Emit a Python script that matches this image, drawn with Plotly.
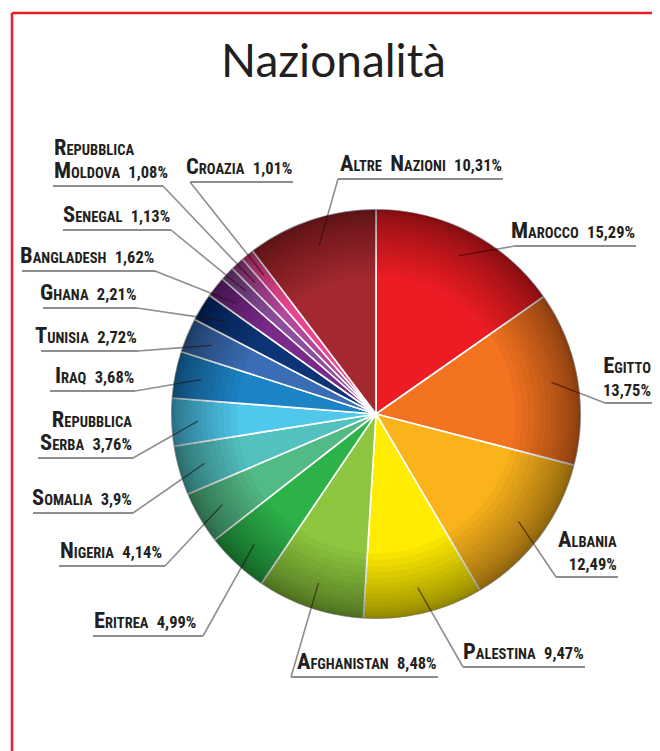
import math
import plotly.graph_objects as go

# ---------------- data ----------------
countries = ["Marocco", "Egitto", "Albania", "Palestina", "Afghanistan", "Eritrea",
             "Nigeria", "Somalia", "Repubblica Serba", "Iraq", "Tunisia", "Ghana",
             "Bangladesh", "Senegal", "Repubblica Moldova", "Croazia", "Altre Nazioni"]
percentages = [15.29, 13.75, 12.49, 9.47, 8.48, 4.99,
               4.14, 3.9, 3.76, 3.68, 2.72, 2.21,
               1.62, 1.13, 1.08, 1.01, 10.31]
slice_colors = ["#ED1C24", "#F37321", "#FAB31B", "#FFEC00", "#8DC63F", "#2DB24A",
                "#52BA84", "#52C1C0", "#4FC8EC", "#1C83C5", "#3A6DB5", "#0E3478",
                "#7A2A8B", "#8C4E9E", "#B2479B", "#E94690", "#A4282F"]

# ---------------- layout / style ----------------
OFF = 8                              # page body margin of the browser
W, H = 652, 743
CX, CY, R = 376, 414, 205            # pie centre / radius (page pixels)
INNER_FRAC = 0.87                    # where leader lines start inside slices

# label placement: (underline y, underline x0, underline x1, elbow side, text anchor, line break)
label_layout = [
    (246, 515, 636, "L", "right", None),
    (403, 605, 652, "L", "right", "pct"),
    (577, 556, 618, "L", "right", "pct"),
    (667, 463, 585, "L", "right", None),
    (677, 291, 438, "L", "right", None),
    (636, 93, 203, "R", "left", None),
    (566, 59, 165, "R", "left", None),
    (513, 33, 133, "R", "right", None),
    (458, 38, 133, "R", "right", "word"),
    (391, 50, 135, "R", "right", None),
    (351, 41, 138, "R", "right", None),
    (308, 43, 137, "R", "right", None),
    (271, 22, 155, "R", "right", None),
    (230, 63, 171, "R", "right", None),
    (186, 53, 163, "R", "left", "word"),
    (182, 190, 293, "L", "right", None),
    (179, 338, 503, "L", "right", None),
]

LABEL_FONT = "Roboto Condensed, Roboto, sans-serif"
TEXT_COLOR = "#231F20"
BIG, SMALL, NUM = 22.5, 14.5, 16.5


def px(x):
    return (x - OFF) / W


def py(y):
    return 1 - (y - OFF) / H


def smallcaps(word):
    return (f"<span style='font-size:{BIG}px'>{word[0].upper()}</span>"
            f"<span style='font-size:{SMALL}px'>{word[1:].upper()}</span>")


def fmt_pct(v):
    return f"{v:g}".replace(".", ",") + "%"


def build_label(name, value, brk):
    words = name.split(" ")
    num = f"<span style='font-size:{NUM}px'>{fmt_pct(value)}</span>"
    if brk == "word":
        return smallcaps(words[0]) + "<br>" + " ".join(smallcaps(w) for w in words[1:]) + " &nbsp;" + num
    name_txt = " &nbsp;".join(smallcaps(w) for w in words)
    if brk == "pct":
        return name_txt + "<br>" + num
    return name_txt + " &nbsp;" + num


pie_domain = dict(x=[px(CX - R), px(CX + R)], y=[py(CY + R), py(CY - R)])

fig = go.Figure()

# main pie
fig.add_trace(go.Pie(
    labels=countries, values=percentages, sort=False, direction="clockwise", rotation=0,
    marker=dict(colors=slice_colors, line=dict(color="white", width=1.6)),
    textinfo="none", hoverinfo="label+percent", showlegend=False,
    domain=pie_domain,
))

# rim shading (stacked translucent rings)
n_rings = 16
for k in range(n_rings):
    hole = 0.68 + (0.992 - 0.68) * (1 - (1 - k / (n_rings - 1)) ** 1.6)
    fig.add_trace(go.Pie(
        values=[1], hole=hole, sort=False, textinfo="none", hoverinfo="skip",
        marker=dict(colors=["rgba(0,0,0,0.036)"], line=dict(width=0)), showlegend=False,
        domain=pie_domain,
    ))

shapes = []
annotations = []
total = sum(percentages)
cum = 0.0
for name, val, lay in zip(countries, percentages, label_layout):
    mid = (cum + val / 2) / total * 2 * math.pi
    cum += val
    uy, x0, x1, side, anchor, brk = lay
    ix = CX + INNER_FRAC * R * math.sin(mid)
    iy = CY - INNER_FRAC * R * math.cos(mid)
    ex = x0 if side == "L" else x1
    ey = uy
    # intersection with rim
    dx, dy = ex - ix, ey - iy
    fx, fy = ix - CX, iy - CY
    a = dx * dx + dy * dy
    b = 2 * (fx * dx + fy * dy)
    c = fx * fx + fy * fy - R * R
    t = (-b + math.sqrt(b * b - 4 * a * c)) / (2 * a)
    rx, ry = ix + t * dx, iy + t * dy
    shapes.append(dict(type="line", xref="paper", yref="paper",
                       x0=px(rx), y0=py(ry), x1=px(ex), y1=py(ey),
                       line=dict(color="#8E8E90", width=1.6)))
    shapes.append(dict(type="line", xref="paper", yref="paper",
                       x0=px(ix), y0=py(iy), x1=px(rx), y1=py(ry),
                       line=dict(color="rgba(40,10,10,0.6)", width=1.3)))
    shapes.append(dict(type="line", xref="paper", yref="paper",
                       x0=px(x0), y0=py(uy), x1=px(x1), y1=py(uy),
                       line=dict(color="#8E8E90", width=2)))
    annotations.append(dict(
        text=build_label(name, val, brk), xref="paper", yref="paper",
        x=px(x1 if anchor == "right" else x0), y=py(uy - 2),
        xanchor=anchor, yanchor="bottom", align=anchor, showarrow=False,
        font=dict(family=LABEL_FONT, size=18, color=TEXT_COLOR, weight="bold"),
        borderpad=0,
    ))

# red frame (top + left)
shapes.append(dict(type="line", xref="paper", yref="paper", x0=px(12), y0=py(13), x1=1, y1=py(13),
                   line=dict(color="#ED1C24", width=2.5)))
shapes.append(dict(type="line", xref="paper", yref="paper", x0=px(12), y0=py(13), x1=px(12), y1=0,
                   line=dict(color="#ED1C24", width=2.5)))

annotations.append(dict(
    text="Nazionalità", xref="paper", yref="paper", x=px(333), y=py(60),
    xanchor="center", yanchor="middle", showarrow=False,
    font=dict(family="Lato, Open Sans, sans-serif", size=46, color=TEXT_COLOR),
))

fig.update_layout(
    width=W, height=H, margin=dict(l=0, r=0, t=0, b=0),
    paper_bgcolor="white", plot_bgcolor="white",
    shapes=shapes, annotations=annotations, showlegend=False,
)

fig.write_html("out.html")
